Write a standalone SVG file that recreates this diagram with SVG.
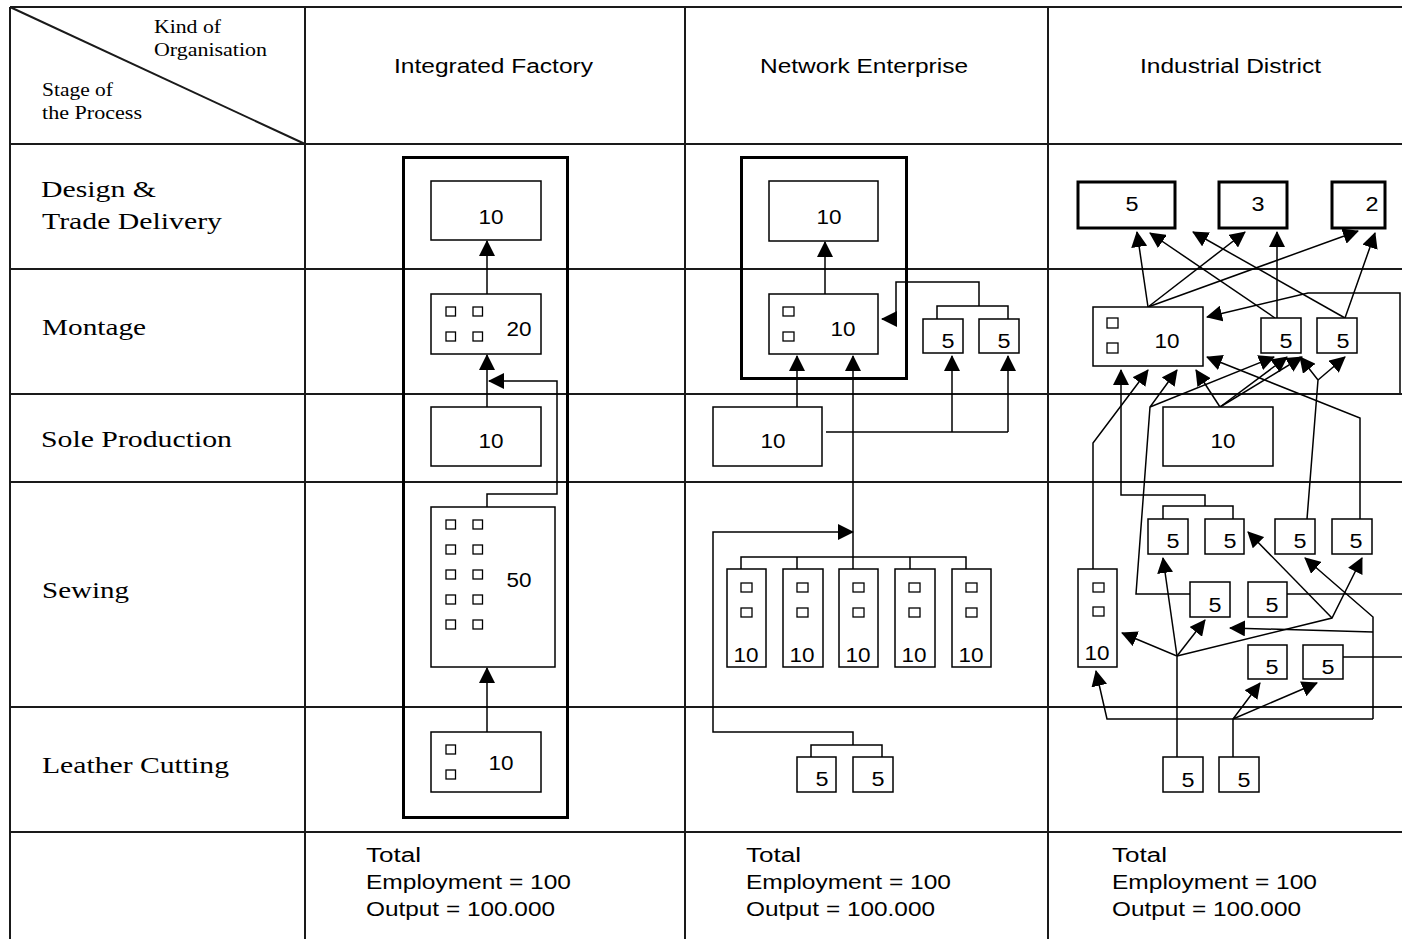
<svg xmlns="http://www.w3.org/2000/svg" width="1402" height="939" viewBox="0 0 1402 939">
<defs>
<marker id="ah" viewBox="0 0 16 16" markerWidth="16" markerHeight="16" refX="15" refY="8" orient="auto" markerUnits="userSpaceOnUse"><path d="M0,0 L16,8 L0,16 z" fill="#000"/></marker>
<style>
.tbl{stroke:#1a1a1a;stroke-width:2;fill:none}
.box{fill:#fff;stroke:#000;stroke-width:1.5}
.thick{fill:none;stroke:#000;stroke-width:3}
.tbox{fill:#fff;stroke:#000;stroke-width:3}
.sq{fill:#fff;stroke:#000;stroke-width:1.3}
.a{fill:none;stroke:#000;stroke-width:1.5;marker-end:url(#ah)}
.l{fill:none;stroke:#000;stroke-width:1.5}
.num{font-family:"Liberation Sans",Arial,sans-serif;font-size:20px;text-anchor:middle;fill:#000}
.hd{font-family:"Liberation Sans",Arial,sans-serif;font-size:20px;text-anchor:middle;fill:#000}
.ft{font-family:"Liberation Sans",Arial,sans-serif;font-size:20px;fill:#000}
.lbl{font-family:"Liberation Serif","Times New Roman",serif;font-size:24px;fill:#000}
.sm{font-family:"Liberation Serif","Times New Roman",serif;font-size:18px;fill:#000}
</style>
</defs>
<rect width="1402" height="939" fill="#fff"/>

<g id="table">
<path class="tbl" d="M10,7 H1402 M10,144 H1402 M10,269 H1402 M10,394 H1402 M10,482 H1402 M10,707 H1402 M10,832 H1402"/>
<path class="tbl" d="M10,7 V939 M305,7 V939 M685,7 V939 M1048,7 V939"/>
<path class="tbl" d="M10,7 L305,144" stroke-width="1.5"/>
</g>

<g id="headers">
<text class="sm" x="154" y="33" textLength="67" lengthAdjust="spacingAndGlyphs">Kind of</text>
<text class="sm" x="154" y="56" textLength="113" lengthAdjust="spacingAndGlyphs">Organisation</text>
<text class="sm" x="42" y="96" textLength="71" lengthAdjust="spacingAndGlyphs">Stage of</text>
<text class="sm" x="42" y="119" textLength="100" lengthAdjust="spacingAndGlyphs">the Process</text>
<text class="hd" x="493.5" y="73" textLength="199" lengthAdjust="spacingAndGlyphs">Integrated Factory</text>
<text class="hd" x="864" y="73" textLength="208" lengthAdjust="spacingAndGlyphs">Network Enterprise</text>
<text class="hd" x="1230.5" y="73" textLength="181" lengthAdjust="spacingAndGlyphs">Industrial District</text>
</g>

<g id="row-labels">
<text class="lbl" x="41" y="197" textLength="115" lengthAdjust="spacingAndGlyphs">Design &amp;</text>
<text class="lbl" x="42" y="229" textLength="180" lengthAdjust="spacingAndGlyphs">Trade Delivery</text>
<text class="lbl" x="42" y="335" textLength="104" lengthAdjust="spacingAndGlyphs">Montage</text>
<text class="lbl" x="41" y="447" textLength="191" lengthAdjust="spacingAndGlyphs">Sole Production</text>
<text class="lbl" x="42" y="598" textLength="87" lengthAdjust="spacingAndGlyphs">Sewing</text>
<text class="lbl" x="42" y="773" textLength="187" lengthAdjust="spacingAndGlyphs">Leather Cutting</text>
</g>

<g id="footer">
<text class="ft" x="366" y="862" textLength="55" lengthAdjust="spacingAndGlyphs">Total</text>
<text class="ft" x="366" y="889" textLength="205" lengthAdjust="spacingAndGlyphs">Employment = 100</text>
<text class="ft" x="366" y="916" textLength="189" lengthAdjust="spacingAndGlyphs">Output = 100.000</text>
<text class="ft" x="746" y="862" textLength="55" lengthAdjust="spacingAndGlyphs">Total</text>
<text class="ft" x="746" y="889" textLength="205" lengthAdjust="spacingAndGlyphs">Employment = 100</text>
<text class="ft" x="746" y="916" textLength="189" lengthAdjust="spacingAndGlyphs">Output = 100.000</text>
<text class="ft" x="1112" y="862" textLength="55" lengthAdjust="spacingAndGlyphs">Total</text>
<text class="ft" x="1112" y="889" textLength="205" lengthAdjust="spacingAndGlyphs">Employment = 100</text>
<text class="ft" x="1112" y="916" textLength="189" lengthAdjust="spacingAndGlyphs">Output = 100.000</text>
</g>

<g id="connectors">
<!-- Integrated Factory -->
<path class="a" d="M487,294 V241"/>
<path class="a" d="M487,407 V355"/>
<path class="a" d="M487,507 V494 H557 V381 H489"/>
<path class="a" d="M487,732 V668"/>
<!-- Network Enterprise -->
<path class="a" d="M825,294 V242"/>
<path class="a" d="M797,407 V356"/>
<path class="l" d="M826,432 H1008"/>
<path class="a" d="M952,432 V356"/>
<path class="a" d="M1008,432 V356"/>
<path class="l" d="M937,319 V306 H1008 V319"/>
<path class="a" d="M979,306 V282 H896 V319 H882"/>
<path class="a" d="M853,557 V356"/>
<path class="l" d="M741,569 V557 H966 V569 M797,557 V569 M853,557 V569 M910,557 V569"/>
<path class="l" d="M811,757 V745 H882 V757"/>
<path class="a" d="M853,745 V732 H713 V532 H853"/>
<!-- Industrial District -->
<path class="a" d="M1148,307 L1137,232"/>
<path class="a" d="M1148,307 L1245,232"/>
<path class="a" d="M1148,307 L1358,231"/>
<path class="a" d="M1275,318 L1150,233"/>
<path class="a" d="M1277,318 V232"/>
<path class="a" d="M1345,318 L1193,232"/>
<path class="a" d="M1345,318 L1375,233"/>
<path class="a" d="M1400,393 V293 H1308 L1207,317"/>
<path class="a" d="M1093,569 V443 L1148,370"/>
<path class="l" d="M1163,519 V506 H1233 V519"/>
<path class="a" d="M1205,506 V495 H1121 V370"/>
<path class="a" d="M1190,594 H1136 L1150,407 L1177,370"/>
<path class="a" d="M1150,407 L1274,357"/>
<path class="a" d="M1220,407 L1196,370"/>
<path class="a" d="M1220,407 L1287,357"/>
<path class="a" d="M1220,407 L1302,357"/>
<path class="a" d="M1360,519 V418 L1207,357"/>
<path class="a" d="M1307,519 L1318,380 L1300,357"/>
<path class="a" d="M1318,380 L1345,357"/>
<path class="l" d="M1287,594 H1402"/>
<path class="l" d="M1343,657 H1402"/>
<path class="a" d="M1177,757 V656 L1122,633"/>
<path class="a" d="M1177,656 L1163,558"/>
<path class="a" d="M1177,656 L1205,620"/>
<path class="a" d="M1177,656 L1332,618 L1362,558"/>
<path class="a" d="M1332,618 L1248,532"/>
<path class="a" d="M1373,719 V617 L1305,558"/>
<path class="a" d="M1373,632 L1230,628"/>
<path class="a" d="M1373,719 H1107 L1096,671"/>
<path class="a" d="M1233,757 V719 L1260,683"/>
<path class="a" d="M1233,719 L1317,683"/>
</g>

<!-- Integrated Factory nodes -->
<g id="if-frame"><rect class="thick" x="403.5" y="157.5" width="164" height="660"/></g>
<g id="if-design"><rect class="box" x="431" y="181" width="110" height="59"/><text class="num" x="491" y="224" textLength="25" lengthAdjust="spacingAndGlyphs">10</text></g>
<g id="if-montage"><rect class="box" x="431" y="294" width="110" height="60"/>
<rect class="sq" x="446" y="307" width="9.5" height="9"/><rect class="sq" x="473" y="307" width="9.5" height="9"/>
<rect class="sq" x="446" y="332" width="9.5" height="9"/><rect class="sq" x="473" y="332" width="9.5" height="9"/>
<text class="num" x="519" y="336" textLength="25" lengthAdjust="spacingAndGlyphs">20</text></g>
<g id="if-sole"><rect class="box" x="431" y="407" width="110" height="59"/><text class="num" x="491" y="448" textLength="25" lengthAdjust="spacingAndGlyphs">10</text></g>
<g id="if-sewing"><rect class="box" x="431" y="507" width="124" height="160"/>
<rect class="sq" x="446" y="520" width="9.5" height="9"/><rect class="sq" x="473" y="520" width="9.5" height="9"/>
<rect class="sq" x="446" y="545" width="9.5" height="9"/><rect class="sq" x="473" y="545" width="9.5" height="9"/>
<rect class="sq" x="446" y="570" width="9.5" height="9"/><rect class="sq" x="473" y="570" width="9.5" height="9"/>
<rect class="sq" x="446" y="595" width="9.5" height="9"/><rect class="sq" x="473" y="595" width="9.5" height="9"/>
<rect class="sq" x="446" y="620" width="9.5" height="9"/><rect class="sq" x="473" y="620" width="9.5" height="9"/>
<text class="num" x="519" y="587" textLength="25" lengthAdjust="spacingAndGlyphs">50</text></g>
<g id="if-leather"><rect class="box" x="431" y="732" width="110" height="60"/>
<rect class="sq" x="446" y="745" width="9.5" height="9"/><rect class="sq" x="446" y="770" width="9.5" height="9"/>
<text class="num" x="501" y="770" textLength="25" lengthAdjust="spacingAndGlyphs">10</text></g>

<!-- Network Enterprise nodes -->
<g id="ne-frame"><rect class="thick" x="741.5" y="157.5" width="165" height="221"/></g>
<g id="ne-design"><rect class="box" x="769" y="181" width="109" height="60"/><text class="num" x="829" y="224" textLength="25" lengthAdjust="spacingAndGlyphs">10</text></g>
<g id="ne-montage"><rect class="box" x="769" y="294" width="109" height="60"/>
<rect class="sq" x="783" y="307" width="11" height="9"/><rect class="sq" x="783" y="332" width="11" height="9"/>
<text class="num" x="843" y="336" textLength="25" lengthAdjust="spacingAndGlyphs">10</text></g>
<g id="ne-montage-5a"><rect class="box" x="923" y="319" width="40" height="34"/><text class="num" x="948" y="348" textLength="13" lengthAdjust="spacingAndGlyphs">5</text></g>
<g id="ne-montage-5b"><rect class="box" x="979" y="319" width="40" height="34"/><text class="num" x="1004" y="348" textLength="13" lengthAdjust="spacingAndGlyphs">5</text></g>
<g id="ne-sole"><rect class="box" x="713" y="407" width="109" height="59"/><text class="num" x="773" y="448" textLength="25" lengthAdjust="spacingAndGlyphs">10</text></g>
<g id="ne-sew-1"><rect class="box" x="727" y="569" width="39" height="98"/><rect class="sq" x="741" y="583" width="11" height="9"/><rect class="sq" x="741" y="608" width="11" height="9"/><text class="num" x="746" y="662" textLength="25" lengthAdjust="spacingAndGlyphs">10</text></g>
<g id="ne-sew-2"><rect class="box" x="783" y="569" width="40" height="98"/><rect class="sq" x="797" y="583" width="11" height="9"/><rect class="sq" x="797" y="608" width="11" height="9"/><text class="num" x="802" y="662" textLength="25" lengthAdjust="spacingAndGlyphs">10</text></g>
<g id="ne-sew-3"><rect class="box" x="839" y="569" width="39" height="98"/><rect class="sq" x="853" y="583" width="11" height="9"/><rect class="sq" x="853" y="608" width="11" height="9"/><text class="num" x="858" y="662" textLength="25" lengthAdjust="spacingAndGlyphs">10</text></g>
<g id="ne-sew-4"><rect class="box" x="895" y="569" width="40" height="98"/><rect class="sq" x="909" y="583" width="11" height="9"/><rect class="sq" x="909" y="608" width="11" height="9"/><text class="num" x="914" y="662" textLength="25" lengthAdjust="spacingAndGlyphs">10</text></g>
<g id="ne-sew-5"><rect class="box" x="952" y="569" width="39" height="98"/><rect class="sq" x="966" y="583" width="11" height="9"/><rect class="sq" x="966" y="608" width="11" height="9"/><text class="num" x="971" y="662" textLength="25" lengthAdjust="spacingAndGlyphs">10</text></g>
<g id="ne-leather-5a"><rect class="box" x="797" y="757" width="39" height="35"/><text class="num" x="822" y="786" textLength="13" lengthAdjust="spacingAndGlyphs">5</text></g>
<g id="ne-leather-5b"><rect class="box" x="853" y="757" width="40" height="35"/><text class="num" x="878" y="786" textLength="13" lengthAdjust="spacingAndGlyphs">5</text></g>

<!-- Industrial District nodes -->
<g id="id-design-5"><rect class="tbox" x="1078" y="182" width="97" height="46"/><text class="num" x="1132" y="211" textLength="13" lengthAdjust="spacingAndGlyphs">5</text></g>
<g id="id-design-3"><rect class="tbox" x="1219" y="182" width="68" height="46"/><text class="num" x="1258" y="211" textLength="13" lengthAdjust="spacingAndGlyphs">3</text></g>
<g id="id-design-2"><rect class="tbox" x="1332" y="182" width="53" height="46"/><text class="num" x="1372" y="211" textLength="13" lengthAdjust="spacingAndGlyphs">2</text></g>
<g id="id-montage-10"><rect class="box" x="1093" y="307" width="110" height="59"/>
<rect class="sq" x="1107" y="318" width="11" height="10"/><rect class="sq" x="1107" y="343" width="11" height="10"/>
<text class="num" x="1167" y="348" textLength="25" lengthAdjust="spacingAndGlyphs">10</text></g>
<g id="id-montage-5a"><rect class="box" x="1261" y="318" width="40" height="35"/><text class="num" x="1286" y="348" textLength="13" lengthAdjust="spacingAndGlyphs">5</text></g>
<g id="id-montage-5b"><rect class="box" x="1317" y="318" width="40" height="35"/><text class="num" x="1343" y="348" textLength="13" lengthAdjust="spacingAndGlyphs">5</text></g>
<g id="id-sole-10"><rect class="box" x="1163" y="407" width="110" height="59"/><text class="num" x="1223" y="448" textLength="25" lengthAdjust="spacingAndGlyphs">10</text></g>
<g id="id-sew-5a"><rect class="box" x="1148" y="519" width="40" height="35"/><text class="num" x="1173" y="548" textLength="13" lengthAdjust="spacingAndGlyphs">5</text></g>
<g id="id-sew-5b"><rect class="box" x="1205" y="519" width="39" height="35"/><text class="num" x="1230" y="548" textLength="13" lengthAdjust="spacingAndGlyphs">5</text></g>
<g id="id-sew-5c"><rect class="box" x="1275" y="519" width="40" height="35"/><text class="num" x="1300" y="548" textLength="13" lengthAdjust="spacingAndGlyphs">5</text></g>
<g id="id-sew-5d"><rect class="box" x="1332" y="519" width="40" height="35"/><text class="num" x="1356" y="548" textLength="13" lengthAdjust="spacingAndGlyphs">5</text></g>
<g id="id-sew-5e"><rect class="box" x="1190" y="582" width="40" height="35"/><text class="num" x="1215" y="612" textLength="13" lengthAdjust="spacingAndGlyphs">5</text></g>
<g id="id-sew-5f"><rect class="box" x="1248" y="582" width="39" height="35"/><text class="num" x="1272" y="612" textLength="13" lengthAdjust="spacingAndGlyphs">5</text></g>
<g id="id-sew-10"><rect class="box" x="1078" y="569" width="39" height="98"/>
<rect class="sq" x="1093" y="583" width="11" height="9"/><rect class="sq" x="1093" y="607" width="11" height="9"/>
<text class="num" x="1097" y="660" textLength="25" lengthAdjust="spacingAndGlyphs">10</text></g>
<g id="id-sew-5g"><rect class="box" x="1248" y="645" width="39" height="34"/><text class="num" x="1272" y="674" textLength="13" lengthAdjust="spacingAndGlyphs">5</text></g>
<g id="id-sew-5h"><rect class="box" x="1303" y="645" width="40" height="34"/><text class="num" x="1328" y="674" textLength="13" lengthAdjust="spacingAndGlyphs">5</text></g>
<g id="id-leather-5a"><rect class="box" x="1163" y="757" width="40" height="35"/><text class="num" x="1188" y="787" textLength="13" lengthAdjust="spacingAndGlyphs">5</text></g>
<g id="id-leather-5b"><rect class="box" x="1219" y="757" width="40" height="35"/><text class="num" x="1244" y="787" textLength="13" lengthAdjust="spacingAndGlyphs">5</text></g>
</svg>
